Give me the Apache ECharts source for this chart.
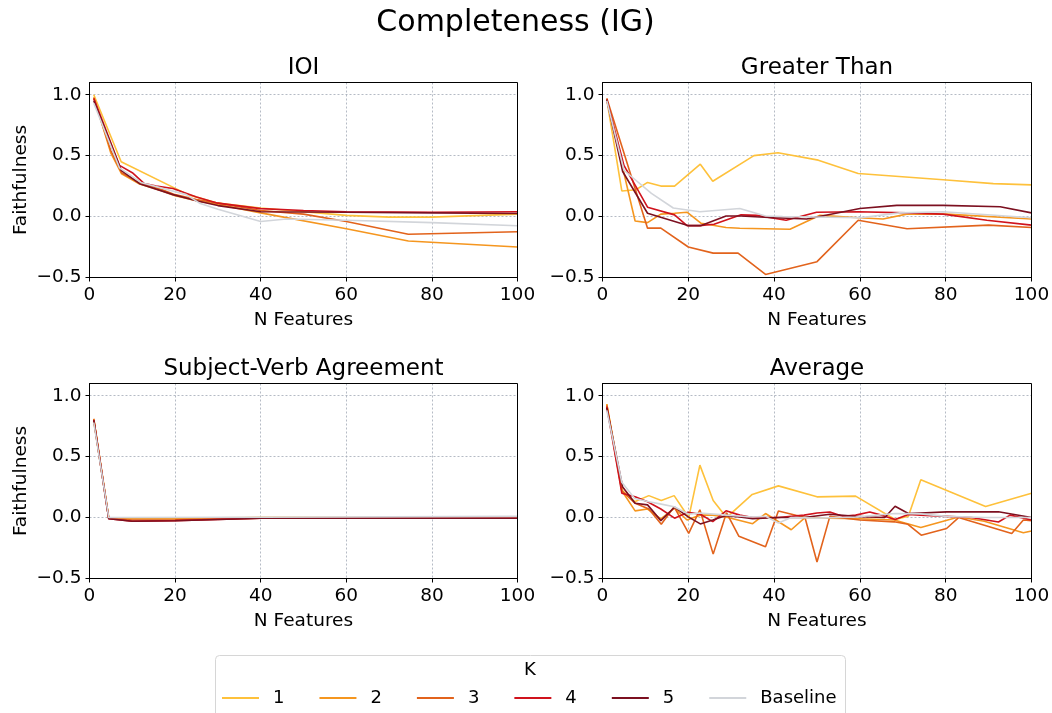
<!DOCTYPE html>
<html>
<head>
<meta charset="utf-8">
<title>Completeness (IG)</title>
<script src="https://cdn.jsdelivr.net/npm/echarts@6/dist/echarts.min.js"></script>
<style>
  html, body { margin: 0; padding: 0; background: #fff; }
  #chart { width: 1052px; height: 713px; }
</style>
</head>
<body>
<div id="chart"></div>
<script>
// Faithfulness vs. number of features, one [nFeatures, faithfulness] pair per point.
const seriesNames = ['1', '2', '3', '4', '5', 'Baseline'];
const seriesColors = ['#FEC13B', '#F5961F', '#E2631C', '#D0131D', '#7C1020', '#D2D5DA'];
const panelTitles = ['IOI', 'Greater Than', 'Subject-Verb Agreement', 'Average'];
const xTicks = [0, 20, 40, 60, 80, 100];
const yTicks = [-0.5, 0, 0.5, 1.0];

// IOI
const ioiK1 = [[1,1.0],[7.4,0.45],[23,0.18],[30,0.11],[40,0.07],[50,0.04],[60,0.01],[70,-0.005],[80,-0.005],[100,0.02]];
const ioiK2 = [[1,0.98],[5,0.52],[7.5,0.35],[11.5,0.27],[17,0.21],[20,0.17],[25,0.13],[30,0.10],[40,0.03],[60,-0.10],[74.5,-0.20],[100,-0.25]];
const ioiK3 = [[1,0.97],[5,0.54],[7.5,0.36],[11.5,0.28],[17,0.22],[20,0.18],[25,0.14],[30,0.11],[40,0.05],[50,0.02],[60,-0.04],[74.5,-0.145],[100,-0.125]];
const ioiK4 = [[1,0.97],[7,0.42],[10,0.36],[12.8,0.27],[15.6,0.25],[19.5,0.23],[25,0.16],[30,0.11],[40,0.065],[50,0.05],[60,0.04],[80,0.035],[100,0.04]];
const ioiK5 = [[1,0.95],[7.4,0.38],[11.7,0.27],[19.5,0.18],[25,0.13],[30,0.09],[40,0.04],[60,0.035],[80,0.03],[100,0.025]];
const ioiBase = [[1,0.93],[7,0.40],[12,0.28],[22.6,0.18],[25.7,0.11],[30,0.06],[40,-0.04],[46,-0.02],[60,-0.03],[80,-0.05],[100,-0.075]];

// Greater Than
const gtK1 = [[1,0.96],[4.5,0.21],[7.8,0.22],[10.5,0.28],[13.6,0.25],[16.8,0.25],[22.8,0.43],[25.7,0.29],[35.3,0.50],[40.9,0.523],[50.3,0.463],[59.6,0.353],[80.2,0.30],[91.1,0.27],[100,0.26]];
const gtK2 = [[1,0.96],[7.6,-0.036],[10.5,-0.05],[13.6,0.02],[16.8,0.027],[19.7,0.036],[23,-0.055],[28.8,-0.09],[32,-0.096],[43.7,-0.104],[50.7,0.01],[59.8,-0.01],[65.4,-0.02],[70.9,0.02],[80.2,0.02],[100,-0.02]];
const gtK3 = [[1,0.97],[10.5,-0.095],[13.6,-0.095],[20,-0.25],[25.8,-0.30],[31.6,-0.30],[38,-0.475],[50,-0.37],[59.6,-0.03],[71,-0.10],[90,-0.07],[100,-0.09]];
const gtK4 = [[1,0.96],[5,0.42],[10.5,0.077],[16.8,0.014],[19.7,-0.074],[22.6,-0.074],[26,-0.063],[32.3,0.014],[36,0.01],[42.8,-0.03],[49.9,0.035],[59.6,0.04],[70.9,0.03],[79.4,0.02],[89.6,-0.03],[100,-0.07]];
const gtK5 = [[1,0.96],[4.7,0.37],[10.5,0.027],[19.9,-0.074],[23,-0.074],[28.8,0.005],[32.3,0.005],[40,-0.01],[47.6,-0.02],[60,0.066],[68.6,0.092],[79.4,0.092],[92.7,0.08],[100,0.03]];
const gtBase = [[1,0.95],[5,0.38],[11.4,0.19],[16.5,0.07],[22.7,0.04],[32,0.066],[38,0.005],[42,0.0],[60,-0.01],[69.3,0.03],[79.4,0.04],[100,-0.01]];

// Subject-Verb Agreement
const svaK1 = [[1,0.79],[4.5,0.0],[10,-0.005],[20,-0.005],[40,0.0],[100,0.0]];
const svaK2 = [[1,0.81],[4.5,0.0],[10,-0.01],[20,-0.01],[40,0.0],[100,-0.002]];
const svaK3 = [[1,0.81],[4.5,-0.005],[10,-0.02],[20,-0.018],[40,-0.005],[100,-0.005]];
const svaK4 = [[1,0.80],[4.5,-0.01],[10,-0.03],[20,-0.025],[30,-0.015],[40,-0.005],[100,-0.005]];
const svaK5 = [[1,0.80],[4.5,-0.01],[10,-0.03],[20,-0.026],[30,-0.016],[40,-0.006],[100,-0.006]];
const svaBase = [[1,0.78],[4.5,0.0],[40,0.003],[100,0.01]];

// Average
const avgK1 = [[1,0.93],[4.5,0.225],[7.5,0.13],[10.8,0.18],[13.7,0.14],[16.7,0.18],[20.1,0.0],[22.7,0.43],[25.8,0.14],[28.9,0.0],[34.9,0.19],[41,0.26],[50,0.17],[59,0.176],[68.2,-0.016],[71.3,0.01],[74.2,0.31],[89.3,0.09],[100,0.2]];
const avgK2 = [[1,0.93],[4.7,0.21],[7.6,0.055],[10.5,0.07],[13.6,-0.01],[16.8,0.077],[19.7,-0.02],[22.8,0.02],[25.7,0.02],[28.8,0.005],[35,-0.05],[38,0.033],[44,-0.10],[47.2,0.0],[53,-0.005],[60,-0.01],[68,-0.02],[74.2,-0.082],[83,0.005],[89,-0.03],[98.1,-0.125],[100,-0.11]];
const avgK3 = [[1,0.92],[4.5,0.22],[7.5,0.12],[10.8,0.07],[13.7,-0.055],[16.7,0.088],[20.1,-0.13],[22.7,0.064],[25.8,-0.30],[28.9,0.04],[31.8,-0.154],[38,-0.24],[41,0.054],[47.2,0.0],[50,-0.364],[53,0.01],[60,-0.02],[68,-0.035],[71.2,-0.055],[74.3,-0.145],[80.2,-0.09],[83,0.0],[95.4,-0.13],[98.1,-0.02],[100,-0.025]];
const avgK4 = [[1,0.91],[4.5,0.2],[7.6,0.17],[10.5,0.13],[13.6,0.07],[16.8,-0.005],[19.9,0.044],[22.8,0.027],[25.7,-0.033],[28.8,0.055],[32,0.02],[35,0.0],[41,0.0],[47,0.02],[50,0.038],[53,0.046],[56,0.01],[59,0.02],[62.3,0.046],[65,0.02],[68.2,-0.016],[71.3,0.025],[74.2,0.02],[80.2,0.01],[86,0.0],[92.3,-0.036],[95,0.02],[100,-0.02]];
const avgK5 = [[1,0.9],[4.7,0.25],[7.6,0.117],[10.5,0.104],[13.6,-0.025],[16.8,0.085],[19.9,0.008],[22.8,-0.052],[25.7,-0.02],[28.8,0.016],[32,0.005],[35,-0.01],[41,0.0],[47,0.0],[53,0.027],[59,0.01],[62,0.005],[65.8,0.0],[68.2,0.093],[71.3,0.033],[74.2,0.038],[80.2,0.047],[92.3,0.047],[100,0.0]];
const avgBase = [[1,0.88],[4.5,0.29],[7.5,0.157],[10.8,0.13],[13.7,0.11],[16.7,0.088],[20.1,0.027],[22.7,0.038],[28.9,0.02],[35,0.005],[38,0.01],[41,-0.044],[44,0.0],[50,-0.005],[59,0.005],[68.2,0.033],[74.2,0.03],[80.2,0.01],[89,0.0],[100,0.0]];

const panelData = [
  [ioiK1, ioiK2, ioiK3, ioiK4, ioiK5, ioiBase],
  [gtK1, gtK2, gtK3, gtK4, gtK5, gtBase],
  [svaK1, svaK2, svaK3, svaK4, svaK5, svaBase],
  [avgK1, avgK2, avgK3, avgK4, avgK5, avgBase]
];

// Panel boxes (2 x 2)
const panelLeft = [89.5, 602.5];
const panelTop = [82.5, 383.5];
const panelW = [428, 429];
const panelH = 195;

const FONT = '"DejaVu Sans", sans-serif';
const TICK_FS = 18.5;
const LABEL_FS = 18.5;

function fmtY(v) {
  if (Math.abs(v * 2 - Math.round(v * 2)) > 1e-6) return '';
  return v.toFixed(1).replace('-', '\u2212');
}

const grids = [], xAxes = [], yAxes = [], series = [], graphics = [];
for (let p = 0; p < 4; p++) {
  const col = p % 2, row = Math.floor(p / 2);
  grids.push({
    left: panelLeft[col], top: panelTop[row], width: panelW[col], height: panelH,
    show: false, containLabel: false, outerBoundsMode: 'none'
  });
  xAxes.push({
    type: 'value', gridIndex: p, min: 0, max: 100, interval: 20,
    name: 'N Features', nameLocation: 'middle', nameGap: 33,
    nameTextStyle: { fontFamily: FONT, fontSize: LABEL_FS, color: '#000' },
    axisLine: { show: true, onZero: false, lineStyle: { color: '#000', width: 1 } },
    axisTick: { show: true, inside: false, length: 4, lineStyle: { color: '#000', width: 1 } },
    axisLabel: { show: true, margin: 8, fontFamily: FONT, fontSize: TICK_FS, color: '#000' },
    splitLine: { show: true, lineStyle: { color: '#A3AAB6', width: 0.8, type: [2, 2] } }
  });
  yAxes.push({
    type: 'value', gridIndex: p, min: -0.5, max: 1.1, interval: 0.5,
    name: col === 0 ? 'Faithfulness' : '', nameLocation: 'middle', nameGap: 59, nameRotate: 90,
    nameTextStyle: { fontFamily: FONT, fontSize: LABEL_FS, color: '#000' },
    axisLine: { show: true, onZero: false, lineStyle: { color: '#000', width: 1 } },
    axisTick: { show: true, inside: false, length: 4, customValues: yTicks, lineStyle: { color: '#000', width: 1 } },
    axisLabel: { show: true, margin: 8, customValues: yTicks, formatter: fmtY, fontFamily: FONT, fontSize: TICK_FS, color: '#000' },
    splitLine: { show: true, lineStyle: { color: '#A3AAB6', width: 0.8, type: [2, 2] } }
  });
  for (let s = 0; s < 6; s++) {
    series.push({
      type: 'line', name: seriesNames[s], xAxisIndex: p, yAxisIndex: p,
      data: panelData[p][s], color: seriesColors[s],
      showSymbol: false, symbol: 'none', smooth: false,
      lineStyle: { width: 1.6, color: seriesColors[s] },
      z: 2 + s, silent: true
    });
  }
  // panel frame drawn over the grid lines
  graphics.push({
    type: 'rect', z: 100,
    shape: { x: panelLeft[col], y: panelTop[row], width: panelW[col], height: panelH },
    style: { fill: null, stroke: '#000', lineWidth: 1 }
  });
  graphics.push({
    type: 'text', x: panelLeft[col] + panelW[col] / 2, y: panelTop[row] - 14,
    style: { text: panelTitles[p], fontFamily: FONT, fontSize: 23, fill: '#000', textAlign: 'center', textVerticalAlign: 'middle' }
  });
}

// figure title
graphics.push({
  type: 'text', x: 515.5, y: 23,
  style: { text: 'Completeness (IG)', fontFamily: FONT, fontSize: 30, fill: '#000', textAlign: 'center', textVerticalAlign: 'middle' }
});
// legend frame and heading
graphics.push({
  type: 'rect', shape: { x: 215.5, y: 655.5, width: 630, height: 70, r: 4 },
  style: { fill: 'rgba(255,255,255,0.8)', stroke: '#D6D6D6', lineWidth: 1 }, z: 0
});
graphics.push({
  type: 'text', x: 530, y: 670,
  style: { text: 'K', fontFamily: FONT, fontSize: 18, fill: '#000', textAlign: 'center', textVerticalAlign: 'middle' }
});

const chart = echarts.init(document.getElementById('chart'), null, { renderer: 'canvas' });
chart.setOption({
  animation: false,
  backgroundColor: '#fff',
  textStyle: { fontFamily: FONT },
  grid: grids,
  xAxis: xAxes,
  yAxis: yAxes,
  series: series,
  legend: {
    data: seriesNames, left: 222, top: 688, orient: 'horizontal',
    icon: 'rect', itemWidth: 37, itemHeight: 2, itemGap: 35, padding: 0,
    selectedMode: false,
    textStyle: { fontFamily: FONT, fontSize: 18, color: '#000', lineHeight: 20, padding: [0, 0, 0, 9] }
  },
  graphic: graphics
});
</script>
</body>
</html>
